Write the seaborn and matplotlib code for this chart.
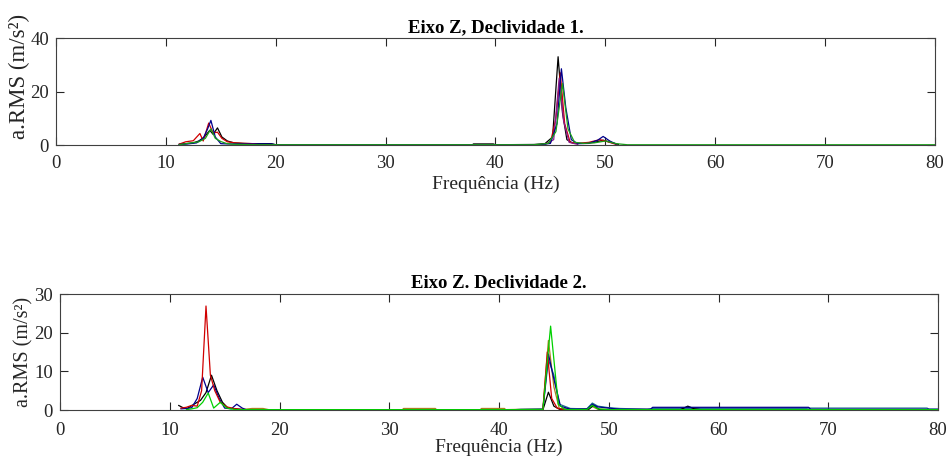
import numpy as np
import pandas as pd
import seaborn as sns
import matplotlib
matplotlib.use("Agg")
import matplotlib.pyplot as plt

# ---------------- data ----------------
titles = ["Eixo Z, Declividade 1.", "Eixo Z. Declividade 2."]
xlabel = "Frequência (Hz)"
ylabel = "a.RMS (m/s²)"
x_ticks = [0, 10, 20, 30, 40, 50, 60, 70, 80]
y_ticks_top = [0, 20, 40]
y_ticks_bottom = [0, 10, 20, 30]

# Declividade 1 (top)
top_black_f = [11.2, 11.8, 12.5, 13.0, 13.5, 14.0, 14.3, 14.7, 15.1, 15.6, 16.2, 17.0, 18.0, 19.6, 20.0,
               37.9, 38.0, 39.8, 40.0, 43.5, 44.5, 45.2, 45.7, 46.1, 46.5, 47.0, 48.0, 49.0, 49.8, 50.5, 51.2]
top_black_v = [0.3, 0.5, 0.8, 1.5, 3.0, 5.5, 4.0, 6.4, 3.0, 1.5, 0.8, 0.6, 0.5, 0.5, 0.1,
               0.1, 0.4, 0.4, 0.1, 0.2, 0.5, 3.0, 33.0, 12.0, 2.0, 0.8, 0.6, 1.0, 1.8, 1.0, 0.2]
top_blue_f = [11.2, 12.0, 12.8, 13.4, 13.8, 14.1, 14.5, 15.0, 15.6, 16.5, 17.5, 19.6, 20.0,
              44.0, 45.0, 45.6, 46.0, 46.4, 46.9, 47.5, 48.5, 49.3, 49.8, 50.4, 51.0]
top_blue_v = [0.2, 0.4, 0.8, 2.5, 6.0, 9.2, 3.0, 0.5, 0.4, 0.4, 0.4, 0.4, 0.1,
              0.1, 0.6, 8.0, 28.5, 14.0, 2.0, 0.5, 0.6, 1.8, 3.2, 1.5, 0.3]
top_red_f = [11.2, 11.8, 12.5, 13.1, 13.4, 13.9, 14.3, 14.7, 15.1, 15.6, 16.3, 17.2, 18.0, 18.5,
             44.0, 45.0, 45.5, 45.9, 46.3, 46.8, 47.5, 48.5, 49.5, 50.0, 51.0]
top_red_v = [0.3, 1.2, 1.6, 4.3, 1.5, 8.2, 4.5, 4.8, 2.5, 1.2, 0.8, 0.6, 0.5, 0.1,
             0.1, 0.8, 10.0, 27.0, 8.0, 1.0, 0.6, 1.0, 2.0, 1.5, 0.2]
top_purple_f = [44.5, 45.3, 45.8, 46.2, 46.7, 47.5]
top_purple_v = [0.2, 2.0, 25.0, 9.0, 1.0, 0.2]
top_green_f = [11.2, 12.0, 13.0, 13.6, 14.1, 14.5, 15.0, 15.5, 16.0, 17.0, 18.0, 20.0,
               43.5, 44.8, 45.5, 46.1, 46.6, 47.2, 48.0, 49.0, 50.0, 51.0, 52.0, 80.0]
top_green_v = [0.1, 0.6, 1.2, 2.5, 6.0, 2.5, 1.3, 0.6, 0.3, 0.2, 0.1, 0.1,
               0.1, 0.6, 5.0, 23.0, 6.0, 1.0, 0.6, 0.8, 1.5, 0.5, 0.1, 0.1]

# Declividade 2 (bottom)
bot_red_f = [11.0, 11.5, 12.0, 12.5, 12.9, 13.3, 13.7, 14.1, 14.6, 15.2, 16.0, 17.0,
             44.0, 44.4, 44.8, 45.3, 46.0]
bot_red_v = [0.5, 0.7, 1.2, 1.0, 5.0, 26.9, 9.0, 5.0, 2.0, 0.8, 0.3, 0.05,
             0.05, 15.0, 3.0, 0.5, 0.05]
bot_blue_f = [11.0, 11.5, 12.0, 12.5, 13.0, 13.5, 14.0, 14.5, 15.0, 15.6, 16.1, 16.6, 17.0,
              44.0, 44.5, 45.0, 45.6, 46.5, 48.0, 48.5, 49.0, 50.0, 51.0, 53.8, 54.0, 68.2, 68.4, 80.0]
bot_blue_v = [0.3, 0.4, 0.6, 3.0, 8.5, 4.5, 6.5, 3.0, 0.5, 0.3, 1.5, 0.5, 0.05,
              0.05, 14.5, 8.0, 1.0, 0.2, 0.2, 1.5, 0.8, 0.5, 0.2, 0.2, 0.7, 0.7, 0.2, 0.2]
bot_black_f = [10.8, 11.2, 11.6, 12.2, 12.8, 13.3, 13.8, 14.3, 14.8, 15.3, 16.0, 17.0,
               44.0, 44.5, 45.0, 45.5, 47.0, 48.2, 48.6, 49.2, 56.5, 57.2, 57.8, 58.5]
bot_black_v = [1.2, 0.6, 0.4, 1.5, 2.5, 4.5, 9.0, 5.0, 2.0, 0.5, 0.3, 0.05,
               0.05, 4.6, 1.0, 0.2, 0.1, 0.2, 1.2, 0.05, 0.05, 1.0, 0.3, 0.05]
bot_orange_f = [16.5, 17.5, 18.5, 19.0, 31.2, 31.3, 34.2, 34.3, 38.3, 38.4, 40.5, 40.6,
                44.0, 44.5, 45.0, 45.5, 48.0, 48.5, 49.0, 56.8, 57.3, 58.2, 58.4]
bot_orange_v = [0.1, 0.4, 0.4, 0.1, 0.1, 0.4, 0.4, 0.1, 0.1, 0.4, 0.4, 0.1,
                0.3, 18.0, 6.0, 0.3, 0.2, 0.9, 0.2, 0.1, 0.5, 0.5, 0.1]
bot_teal_f = [41.5, 42.0, 44.0, 44.5, 45.0, 45.5, 46.5, 48.0, 48.5, 49.0, 50.0, 51.0,
              53.5, 54.0, 68.0, 68.2, 79.0, 79.2, 80.0]
bot_teal_v = [0.1, 0.2, 0.3, 13.0, 9.0, 1.5, 0.4, 0.3, 1.8, 1.0, 0.6, 0.4,
              0.2, 0.4, 0.4, 0.5, 0.5, 0.2, 0.2]
bot_green_f = [11.5, 12.0, 12.5, 13.0, 13.5, 14.0, 14.6, 15.2, 16.0, 17.0, 20.0,
               44.0, 44.7, 45.4, 46.0, 48.0, 48.5, 49.0, 50.0, 80.0]
bot_green_v = [0.1, 0.3, 0.6, 2.0, 4.4, 0.5, 2.0, 0.5, 0.1, 0.1, 0.1,
               0.1, 21.7, 1.5, 0.1, 0.1, 1.2, 0.3, 0.1, 0.1]

colors = {"black": "#000000", "blue": "#00008C", "red": "#D00000", "purple": "#8B1A8B",
          "green": "#1AA01A", "orange": "#A88020", "teal": "#1F6E8C", "lime": "#00D000"}


def long_df(series):
    frames = []
    for name, f, v in series:
        frames.append(pd.DataFrame({"f": f, "v": v, "serie": name}))
    return pd.concat(frames, ignore_index=True)


top_df = long_df([("black", top_black_f, top_black_v), ("red", top_red_f, top_red_v),
                  ("purple", top_purple_f, top_purple_v), ("blue", top_blue_f, top_blue_v),
                  ("green", top_green_f, top_green_v)])
bot_df = long_df([("orange", bot_orange_f, bot_orange_v), ("teal", bot_teal_f, bot_teal_v),
                  ("black", bot_black_f, bot_black_v), ("blue", bot_blue_f, bot_blue_v),
                  ("red", bot_red_f, bot_red_v), ("lime", bot_green_f, bot_green_v)])

# ---------------- style ----------------
sns.set_style("ticks")
plt.rcParams["font.family"] = ["Liberation Serif", "DejaVu Serif"]

fig = plt.figure(figsize=(9.47, 4.57), dpi=100)
ax1 = fig.add_axes([0.0591, 0.6827, 0.9282, 0.2341])
ax2 = fig.add_axes([0.0634, 0.1028, 0.9271, 0.2538])

panels = [(ax1, top_df, titles[0], y_ticks_top, 40, 16.5, 13.5, 7.5, 2, (-0.029, 0.645)),
          (ax2, bot_df, titles[1], y_ticks_bottom, 30, 14.5, 13.5, 8.5, 0, (-0.030, 0.504))]

for ax, df, title, yt, ylim, ylab_fs, tick_fs, xpad, xlp, ylab_xy in panels:
    order = list(dict.fromkeys(df["serie"]))
    sns.lineplot(data=df, x="f", y="v", hue="serie", hue_order=order,
                 palette={k: colors[k] for k in order}, estimator=None, sort=False,
                 linewidth=0.9, legend=False, ax=ax)
    ax.set_xlim(0, 80)
    ax.set_ylim(0, ylim)
    ax.set_xticks(x_ticks)
    ax.set_yticks(yt)
    ax.set_title(title, fontsize=13.5, fontweight="bold", pad=4, color="#000000")
    ax.set_xlabel(xlabel, fontsize=14, color="#262626", labelpad=xlp)
    ax.set_ylabel(ylabel, fontsize=ylab_fs, color="#262626")
    ax.yaxis.set_label_coords(*ylab_xy)
    ax.tick_params(direction="in", top=True, right=True, length=5.5, width=0.8,
                   labelsize=tick_fs, colors="#262626")
    ax.tick_params(axis="x", pad=xpad)
    ax.tick_params(axis="y", pad=5)
    for s in ax.spines.values():
        s.set_visible(True)
        s.set_color("#404040")
        s.set_linewidth(0.8)

fig.savefig("out.png", dpi=100)
